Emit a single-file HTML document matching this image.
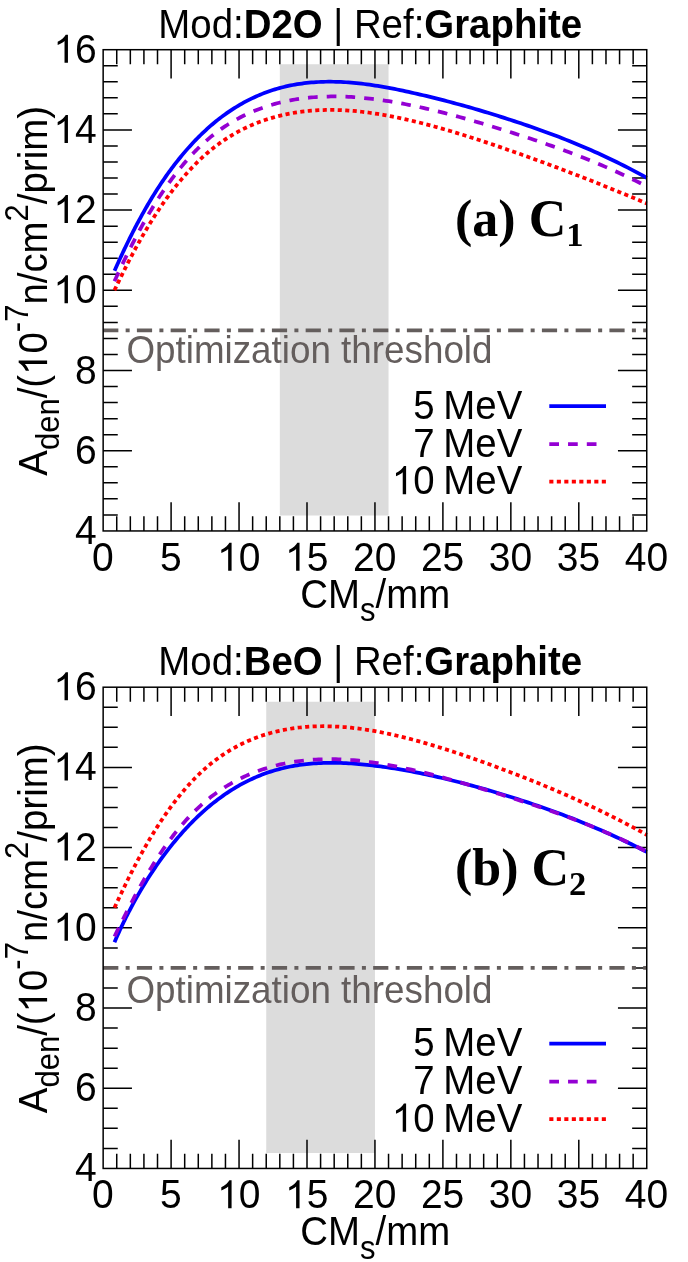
<!DOCTYPE html>
<html><head><meta charset="utf-8"><title>chart</title>
<style>
html,body{margin:0;padding:0;background:#fff;}
svg{display:block;will-change:transform;}
text{font-family:"Liberation Sans",sans-serif;font-size:40.6px;fill:#000;}
tspan.one{fill:none;}
text.lab{font-family:"Liberation Serif",serif;font-weight:bold;font-size:52px;}
</style></head><body>
<svg width="688" height="1262" viewBox="0 0 688 1262">
<rect width="688" height="1262" fill="#fff"/>
<g id="panel1">
<rect x="279.82" y="64.24" width="108.72" height="451.27" fill="#dcdcdc"/>
<path d="M116.74,530.95v-14.6M116.74,49.70v14.6M130.33,530.95v-14.6M130.33,49.70v14.6M143.92,530.95v-14.6M143.92,49.70v14.6M157.51,530.95v-14.6M157.51,49.70v14.6M171.10,530.95v-28.8M171.10,49.70v28.8M184.69,530.95v-14.6M184.69,49.70v14.6M198.28,530.95v-14.6M198.28,49.70v14.6M211.87,530.95v-14.6M211.87,49.70v14.6M225.46,530.95v-14.6M225.46,49.70v14.6M239.05,530.95v-28.8M239.05,49.70v28.8M252.64,530.95v-14.6M252.64,49.70v14.6M266.23,530.95v-14.6M266.23,49.70v14.6M279.82,530.95v-14.6M279.82,49.70v14.6M293.41,530.95v-14.6M293.41,49.70v14.6M307.00,530.95v-28.8M307.00,49.70v28.8M320.59,530.95v-14.6M320.59,49.70v14.6M334.18,530.95v-14.6M334.18,49.70v14.6M347.77,530.95v-14.6M347.77,49.70v14.6M361.36,530.95v-14.6M361.36,49.70v14.6M374.95,530.95v-28.8M374.95,49.70v28.8M388.54,530.95v-14.6M388.54,49.70v14.6M402.13,530.95v-14.6M402.13,49.70v14.6M415.72,530.95v-14.6M415.72,49.70v14.6M429.31,530.95v-14.6M429.31,49.70v14.6M442.90,530.95v-28.8M442.90,49.70v28.8M456.49,530.95v-14.6M456.49,49.70v14.6M470.08,530.95v-14.6M470.08,49.70v14.6M483.67,530.95v-14.6M483.67,49.70v14.6M497.26,530.95v-14.6M497.26,49.70v14.6M510.85,530.95v-28.8M510.85,49.70v28.8M524.44,530.95v-14.6M524.44,49.70v14.6M538.03,530.95v-14.6M538.03,49.70v14.6M551.62,530.95v-14.6M551.62,49.70v14.6M565.21,530.95v-14.6M565.21,49.70v14.6M578.80,530.95v-28.8M578.80,49.70v28.8M592.39,530.95v-14.6M592.39,49.70v14.6M605.98,530.95v-14.6M605.98,49.70v14.6M619.57,530.95v-14.6M619.57,49.70v14.6M633.16,530.95v-14.6M633.16,49.70v14.6M103.15,514.91h14.6M646.75,514.91h-14.6M103.15,498.87h14.6M646.75,498.87h-14.6M103.15,482.83h14.6M646.75,482.83h-14.6M103.15,466.78h14.6M646.75,466.78h-14.6M103.15,450.74h28.8M646.75,450.74h-28.8M103.15,434.70h14.6M646.75,434.70h-14.6M103.15,418.66h14.6M646.75,418.66h-14.6M103.15,402.62h14.6M646.75,402.62h-14.6M103.15,386.58h14.6M646.75,386.58h-14.6M103.15,370.53h28.8M646.75,370.53h-28.8M103.15,354.49h14.6M646.75,354.49h-14.6M103.15,338.45h14.6M646.75,338.45h-14.6M103.15,322.41h14.6M646.75,322.41h-14.6M103.15,306.37h14.6M646.75,306.37h-14.6M103.15,290.33h28.8M646.75,290.33h-28.8M103.15,274.28h14.6M646.75,274.28h-14.6M103.15,258.24h14.6M646.75,258.24h-14.6M103.15,242.20h14.6M646.75,242.20h-14.6M103.15,226.16h14.6M646.75,226.16h-14.6M103.15,210.12h28.8M646.75,210.12h-28.8M103.15,194.07h14.6M646.75,194.07h-14.6M103.15,178.03h14.6M646.75,178.03h-14.6M103.15,161.99h14.6M646.75,161.99h-14.6M103.15,145.95h14.6M646.75,145.95h-14.6M103.15,129.91h28.8M646.75,129.91h-28.8M103.15,113.87h14.6M646.75,113.87h-14.6M103.15,97.82h14.6M646.75,97.82h-14.6M103.15,81.78h14.6M646.75,81.78h-14.6M103.15,65.74h14.6M646.75,65.74h-14.6" stroke="#000" stroke-width="1.5" fill="none"/>
<path d="M103.15,330.33 H646.75" stroke="#645e5d" stroke-width="3.75" stroke-dasharray="15.2 7.3 4 7.25" fill="none"/>
<path d="M114.50,270.86 L115.13,269.43 L115.77,267.99 L116.43,266.51 L117.10,265.02 L117.79,263.50 L118.48,261.96 L119.19,260.40 L119.92,258.82 L120.66,257.22 L121.41,255.60 L122.17,253.96 L122.95,252.30 L123.74,250.62 L124.55,248.93 L125.37,247.22 L126.20,245.49 L127.04,243.75 L127.90,241.99 L128.77,240.22 L129.66,238.44 L130.56,236.64 L131.47,234.83 L132.39,233.00 L133.33,231.17 L134.29,229.32 L135.25,227.46 L136.23,225.60 L137.22,223.72 L138.23,221.83 L139.25,219.94 L140.28,218.04 L141.33,216.13 L142.39,214.21 L143.46,212.29 L144.55,210.37 L145.65,208.44 L146.76,206.50 L147.89,204.57 L149.03,202.63 L150.18,200.69 L151.35,198.75 L152.53,196.81 L153.72,194.87 L154.93,192.94 L156.15,191.00 L157.39,189.07 L158.63,187.14 L159.90,185.22 L161.17,183.30 L162.46,181.38 L163.76,179.48 L165.07,177.57 L166.40,175.68 L167.74,173.79 L169.10,171.91 L170.47,170.04 L171.85,168.17 L173.24,166.32 L174.65,164.47 L176.07,162.64 L177.51,160.81 L178.96,159.00 L180.42,157.20 L181.90,155.41 L183.39,153.63 L184.89,151.86 L186.40,150.11 L187.93,148.37 L189.48,146.64 L191.03,144.93 L192.60,143.24 L194.19,141.55 L195.78,139.89 L197.39,138.24 L199.01,136.61 L200.65,135.00 L202.30,133.40 L203.96,131.82 L205.64,130.26 L207.33,128.72 L209.04,127.20 L210.75,125.70 L212.48,124.22 L214.23,122.76 L215.99,121.32 L217.76,119.90 L219.54,118.50 L221.34,117.13 L223.15,115.78 L224.97,114.45 L226.81,113.15 L228.66,111.87 L230.53,110.61 L232.41,109.38 L234.30,108.17 L236.20,106.98 L238.12,105.82 L240.05,104.68 L242.00,103.57 L243.96,102.48 L245.93,101.42 L247.91,100.39 L249.91,99.38 L251.93,98.39 L253.95,97.44 L255.99,96.51 L258.04,95.60 L260.11,94.73 L262.19,93.88 L264.28,93.06 L266.39,92.27 L268.51,91.50 L270.64,90.77 L272.79,90.06 L274.95,89.38 L277.12,88.73 L279.31,88.11 L281.51,87.52 L283.72,86.96 L285.95,86.43 L288.19,85.93 L290.44,85.46 L292.71,85.01 L294.99,84.60 L297.28,84.21 L299.59,83.85 L301.91,83.52 L304.25,83.22 L306.59,82.95 L308.95,82.71 L311.33,82.49 L313.72,82.30 L316.12,82.14 L318.53,82.00 L320.96,81.89 L323.40,81.81 L325.86,81.75 L328.33,81.73 L330.81,81.72 L333.30,81.75 L335.81,81.80 L338.33,81.87 L340.87,81.98 L343.42,82.10 L345.98,82.25 L348.56,82.43 L351.15,82.63 L353.75,82.86 L356.37,83.11 L359.00,83.39 L361.64,83.69 L364.29,84.01 L366.96,84.36 L369.65,84.73 L372.34,85.12 L375.05,85.53 L377.78,85.96 L380.51,86.42 L383.26,86.89 L386.03,87.38 L388.80,87.89 L391.60,88.42 L394.40,88.96 L397.22,89.52 L400.05,90.10 L402.89,90.69 L405.75,91.30 L408.62,91.92 L411.50,92.56 L414.40,93.21 L417.31,93.87 L420.24,94.55 L423.18,95.24 L426.13,95.94 L429.09,96.66 L432.07,97.39 L435.06,98.13 L438.07,98.88 L441.09,99.65 L444.12,100.43 L447.16,101.23 L450.22,102.04 L453.29,102.86 L456.38,103.69 L459.48,104.54 L462.59,105.40 L465.72,106.28 L468.86,107.17 L472.01,108.07 L475.18,108.99 L478.35,109.92 L481.55,110.87 L484.75,111.83 L487.97,112.80 L491.21,113.79 L494.45,114.79 L497.71,115.81 L500.99,116.84 L504.27,117.88 L507.57,118.94 L510.89,120.01 L514.22,121.10 L517.56,122.20 L520.91,123.32 L524.28,124.46 L527.66,125.61 L531.05,126.78 L534.46,127.97 L537.88,129.18 L541.32,130.41 L544.76,131.66 L548.22,132.93 L551.70,134.22 L555.19,135.53 L558.69,136.87 L562.20,138.23 L565.73,139.62 L569.27,141.04 L572.83,142.47 L576.40,143.94 L579.98,145.43 L583.57,146.95 L587.18,148.50 L590.81,150.08 L594.44,151.69 L598.09,153.33 L601.75,155.01 L605.43,156.71 L609.12,158.45 L612.82,160.22 L616.54,162.02 L620.27,163.86 L624.01,165.74 L627.77,167.65 L631.54,169.60 L635.32,171.58 L639.12,173.61 L642.93,175.67 L646.75,177.78" stroke="#0000ff" stroke-width="3.75" fill="none" stroke-linejoin="round"/>
<path d="M114.50,281.17 L115.13,279.80 L115.77,278.41 L116.43,276.98 L117.10,275.53 L117.79,274.06 L118.48,272.56 L119.19,271.04 L119.92,269.49 L120.66,267.92 L121.41,266.33 L122.17,264.72 L122.95,263.09 L123.74,261.43 L124.55,259.76 L125.37,258.07 L126.20,256.36 L127.04,254.63 L127.90,252.89 L128.77,251.13 L129.66,249.35 L130.56,247.56 L131.47,245.76 L132.39,243.94 L133.33,242.11 L134.29,240.27 L135.25,238.41 L136.23,236.55 L137.22,234.67 L138.23,232.79 L139.25,230.90 L140.28,228.99 L141.33,227.09 L142.39,225.17 L143.46,223.25 L144.55,221.32 L145.65,219.39 L146.76,217.45 L147.89,215.51 L149.03,213.57 L150.18,211.63 L151.35,209.68 L152.53,207.74 L153.72,205.79 L154.93,203.84 L156.15,201.90 L157.39,199.96 L158.63,198.02 L159.90,196.08 L161.17,194.15 L162.46,192.22 L163.76,190.29 L165.07,188.38 L166.40,186.47 L167.74,184.56 L169.10,182.67 L170.47,180.78 L171.85,178.90 L173.24,177.04 L174.65,175.18 L176.07,173.33 L177.51,171.50 L178.96,169.68 L180.42,167.87 L181.90,166.07 L183.39,164.29 L184.89,162.53 L186.40,160.78 L187.93,159.05 L189.48,157.33 L191.03,155.64 L192.60,153.96 L194.19,152.30 L195.78,150.66 L197.39,149.04 L199.01,147.44 L200.65,145.87 L202.30,144.32 L203.96,142.79 L205.64,141.28 L207.33,139.80 L209.04,138.34 L210.75,136.91 L212.48,135.51 L214.23,134.13 L215.99,132.78 L217.76,131.45 L219.54,130.15 L221.34,128.87 L223.15,127.62 L224.97,126.40 L226.81,125.20 L228.66,124.02 L230.53,122.87 L232.41,121.75 L234.30,120.65 L236.20,119.58 L238.12,118.53 L240.05,117.51 L242.00,116.51 L243.96,115.53 L245.93,114.59 L247.91,113.66 L249.91,112.76 L251.93,111.89 L253.95,111.04 L255.99,110.22 L258.04,109.42 L260.11,108.64 L262.19,107.89 L264.28,107.16 L266.39,106.46 L268.51,105.78 L270.64,105.13 L272.79,104.50 L274.95,103.89 L277.12,103.31 L279.31,102.75 L281.51,102.22 L283.72,101.71 L285.95,101.23 L288.19,100.77 L290.44,100.33 L292.71,99.91 L294.99,99.52 L297.28,99.16 L299.59,98.82 L301.91,98.50 L304.25,98.20 L306.59,97.93 L308.95,97.68 L311.33,97.45 L313.72,97.25 L316.12,97.07 L318.53,96.92 L320.96,96.78 L323.40,96.68 L325.86,96.59 L328.33,96.53 L330.81,96.49 L333.30,96.47 L335.81,96.47 L338.33,96.50 L340.87,96.55 L343.42,96.63 L345.98,96.72 L348.56,96.84 L351.15,96.98 L353.75,97.15 L356.37,97.33 L359.00,97.54 L361.64,97.77 L364.29,98.02 L366.96,98.29 L369.65,98.59 L372.34,98.90 L375.05,99.24 L377.78,99.59 L380.51,99.97 L383.26,100.36 L386.03,100.78 L388.80,101.21 L391.60,101.67 L394.40,102.14 L397.22,102.64 L400.05,103.15 L402.89,103.68 L405.75,104.23 L408.62,104.79 L411.50,105.38 L414.40,105.98 L417.31,106.60 L420.24,107.24 L423.18,107.89 L426.13,108.56 L429.09,109.25 L432.07,109.96 L435.06,110.68 L438.07,111.41 L441.09,112.16 L444.12,112.93 L447.16,113.72 L450.22,114.52 L453.29,115.33 L456.38,116.16 L459.48,117.00 L462.59,117.86 L465.72,118.73 L468.86,119.61 L472.01,120.51 L475.18,121.43 L478.35,122.35 L481.55,123.29 L484.75,124.24 L487.97,125.21 L491.21,126.18 L494.45,127.17 L497.71,128.17 L500.99,129.19 L504.27,130.21 L507.57,131.25 L510.89,132.30 L514.22,133.35 L517.56,134.42 L520.91,135.50 L524.28,136.60 L527.66,137.70 L531.05,138.82 L534.46,139.96 L537.88,141.11 L541.32,142.27 L544.76,143.46 L548.22,144.66 L551.70,145.88 L555.19,147.11 L558.69,148.37 L562.20,149.65 L565.73,150.95 L569.27,152.27 L572.83,153.62 L576.40,154.98 L579.98,156.38 L583.57,157.79 L587.18,159.24 L590.81,160.71 L594.44,162.20 L598.09,163.73 L601.75,165.28 L605.43,166.86 L609.12,168.47 L612.82,170.12 L616.54,171.79 L620.27,173.50 L624.01,175.24 L627.77,177.02 L631.54,178.83 L635.32,180.67 L639.12,182.55 L642.93,184.47 L646.75,186.43" stroke="#9400d3" stroke-width="3.75" fill="none" stroke-linejoin="round" stroke-dasharray="9.7 9.05"/>
<path d="M114.50,290.22 L115.13,288.90 L115.77,287.55 L116.43,286.18 L117.10,284.78 L117.79,283.35 L118.48,281.91 L119.19,280.44 L119.92,278.95 L120.66,277.43 L121.41,275.90 L122.17,274.34 L122.95,272.77 L123.74,271.17 L124.55,269.56 L125.37,267.93 L126.20,266.28 L127.04,264.61 L127.90,262.93 L128.77,261.23 L129.66,259.52 L130.56,257.79 L131.47,256.05 L132.39,254.30 L133.33,252.54 L134.29,250.76 L135.25,248.97 L136.23,247.17 L137.22,245.36 L138.23,243.54 L139.25,241.72 L140.28,239.88 L141.33,238.04 L142.39,236.19 L143.46,234.33 L144.55,232.47 L145.65,230.60 L146.76,228.73 L147.89,226.86 L149.03,224.98 L150.18,223.10 L151.35,221.22 L152.53,219.34 L153.72,217.45 L154.93,215.57 L156.15,213.69 L157.39,211.80 L158.63,209.92 L159.90,208.04 L161.17,206.17 L162.46,204.30 L163.76,202.43 L165.07,200.57 L166.40,198.71 L167.74,196.86 L169.10,195.02 L170.47,193.19 L171.85,191.36 L173.24,189.54 L174.65,187.73 L176.07,185.93 L177.51,184.14 L178.96,182.36 L180.42,180.60 L181.90,178.84 L183.39,177.10 L184.89,175.37 L186.40,173.66 L187.93,171.96 L189.48,170.28 L191.03,168.61 L192.60,166.96 L194.19,165.33 L195.78,163.72 L197.39,162.12 L199.01,160.54 L200.65,158.99 L202.30,157.45 L203.96,155.93 L205.64,154.44 L207.33,152.97 L209.04,151.52 L210.75,150.10 L212.48,148.69 L214.23,147.32 L215.99,145.97 L217.76,144.64 L219.54,143.34 L221.34,142.06 L223.15,140.81 L224.97,139.58 L226.81,138.38 L228.66,137.20 L230.53,136.05 L232.41,134.92 L234.30,133.82 L236.20,132.74 L238.12,131.69 L240.05,130.66 L242.00,129.66 L243.96,128.68 L245.93,127.73 L247.91,126.80 L249.91,125.89 L251.93,125.01 L253.95,124.16 L255.99,123.33 L258.04,122.52 L260.11,121.74 L262.19,120.99 L264.28,120.26 L266.39,119.55 L268.51,118.87 L270.64,118.22 L272.79,117.59 L274.95,116.98 L277.12,116.40 L279.31,115.84 L281.51,115.31 L283.72,114.81 L285.95,114.33 L288.19,113.87 L290.44,113.44 L292.71,113.03 L294.99,112.65 L297.28,112.29 L299.59,111.96 L301.91,111.65 L304.25,111.37 L306.59,111.11 L308.95,110.88 L311.33,110.67 L313.72,110.49 L316.12,110.33 L318.53,110.20 L320.96,110.09 L323.40,110.01 L325.86,109.95 L328.33,109.92 L330.81,109.91 L333.30,109.93 L335.81,109.97 L338.33,110.03 L340.87,110.12 L343.42,110.24 L345.98,110.38 L348.56,110.55 L351.15,110.74 L353.75,110.95 L356.37,111.19 L359.00,111.46 L361.64,111.74 L364.29,112.05 L366.96,112.39 L369.65,112.75 L372.34,113.12 L375.05,113.53 L377.78,113.95 L380.51,114.40 L383.26,114.86 L386.03,115.35 L388.80,115.86 L391.60,116.39 L394.40,116.94 L397.22,117.52 L400.05,118.11 L402.89,118.72 L405.75,119.35 L408.62,120.01 L411.50,120.68 L414.40,121.37 L417.31,122.07 L420.24,122.80 L423.18,123.55 L426.13,124.31 L429.09,125.09 L432.07,125.89 L435.06,126.70 L438.07,127.54 L441.09,128.39 L444.12,129.25 L447.16,130.13 L450.22,131.03 L453.29,131.95 L456.38,132.88 L459.48,133.82 L462.59,134.78 L465.72,135.75 L468.86,136.74 L472.01,137.75 L475.18,138.76 L478.35,139.79 L481.55,140.84 L484.75,141.90 L487.97,142.97 L491.21,144.05 L494.45,145.15 L497.71,146.25 L500.99,147.38 L504.27,148.51 L507.57,149.65 L510.89,150.81 L514.22,151.97 L517.56,153.15 L520.91,154.34 L524.28,155.54 L527.66,156.75 L531.05,157.98 L534.46,159.22 L537.88,160.46 L541.32,161.72 L544.76,162.99 L548.22,164.28 L551.70,165.57 L555.19,166.88 L558.69,168.19 L562.20,169.52 L565.73,170.87 L569.27,172.22 L572.83,173.59 L576.40,174.96 L579.98,176.35 L583.57,177.75 L587.18,179.17 L590.81,180.59 L594.44,182.03 L598.09,183.48 L601.75,184.94 L605.43,186.42 L609.12,187.90 L612.82,189.40 L616.54,190.91 L620.27,192.43 L624.01,193.97 L627.77,195.51 L631.54,197.07 L635.32,198.65 L639.12,200.23 L642.93,201.83 L646.75,203.44" stroke="#ff0000" stroke-width="3.75" fill="none" stroke-linejoin="round" stroke-dasharray="4.1 3.4"/>
<rect x="103.15" y="49.70" width="543.60" height="481.25" fill="none" stroke="#000" stroke-width="1.5"/>
<text transform="translate(96.80,543.95) scale(0.975,1)" text-anchor="end" style="font-size:40.0px;">4</text>
<text transform="translate(96.80,463.74) scale(0.975,1)" text-anchor="end" style="font-size:40.0px;">6</text>
<text transform="translate(96.80,383.53) scale(0.975,1)" text-anchor="end" style="font-size:40.0px;">8</text>
<text transform="translate(96.80,303.33) scale(0.975,1)" text-anchor="end" style="font-size:40.0px;"><tspan class="one">1</tspan>0</text>
<text transform="translate(96.80,223.12) scale(0.975,1)" text-anchor="end" style="font-size:40.0px;"><tspan class="one">1</tspan>2</text>
<text transform="translate(96.80,142.91) scale(0.975,1)" text-anchor="end" style="font-size:40.0px;"><tspan class="one">1</tspan>4</text>
<text transform="translate(96.80,62.70) scale(0.975,1)" text-anchor="end" style="font-size:40.0px;"><tspan class="one">1</tspan>6</text>
<text transform="translate(102.85,570.75) scale(0.975,1)" text-anchor="middle" style="font-size:40.0px;">0</text>
<text transform="translate(170.80,570.75) scale(0.975,1)" text-anchor="middle" style="font-size:40.0px;">5</text>
<text transform="translate(238.75,570.75) scale(0.975,1)" text-anchor="middle" style="font-size:40.0px;"><tspan class="one">1</tspan>0</text>
<text transform="translate(306.70,570.75) scale(0.975,1)" text-anchor="middle" style="font-size:40.0px;"><tspan class="one">1</tspan>5</text>
<text transform="translate(374.65,570.75) scale(0.975,1)" text-anchor="middle" style="font-size:40.0px;">20</text>
<text transform="translate(442.60,570.75) scale(0.975,1)" text-anchor="middle" style="font-size:40.0px;">25</text>
<text transform="translate(510.55,570.75) scale(0.975,1)" text-anchor="middle" style="font-size:40.0px;">30</text>
<text transform="translate(578.50,570.75) scale(0.975,1)" text-anchor="middle" style="font-size:40.0px;">35</text>
<text transform="translate(646.45,570.75) scale(0.975,1)" text-anchor="middle" style="font-size:40.0px;">40</text>
<text transform="translate(375.30,607.75) scale(0.946,1)" text-anchor="middle">CM<tspan style="font-size:32.8px" dy="13.6">s</tspan><tspan dy="-13.6">/mm</tspan></text>
<text transform="translate(47.10,290.88) rotate(-90) scale(0.946,1)" text-anchor="middle">A<tspan style="font-size:32.8px" dy="12.2">den</tspan><tspan dy="-12.2">/(<tspan class="one">1</tspan>0</tspan><tspan style="font-size:32.8px" dy="-19">-7</tspan><tspan dy="19">n/cm</tspan><tspan style="font-size:32.8px" dy="-19">2</tspan><tspan dy="19">/prim)</tspan></text>
<text transform="translate(158.30,37.90) scale(0.946,1)">Mod:<tspan style="font-weight:bold">D2O</tspan> | Ref:<tspan style="font-weight:bold">Graphite</tspan></text>
<text transform="translate(126.40,362.83) scale(0.946,1)" style="font-size:38.9px;fill:#645e5d">Optimization threshold</text>
<text transform="translate(522.30,418.73) scale(0.946,1)" text-anchor="end" style="word-spacing:-1.9px">5 MeV</text>
<text transform="translate(522.30,456.63) scale(0.946,1)" text-anchor="end" style="word-spacing:-1.9px">7 MeV</text>
<text transform="translate(522.30,494.33) scale(0.946,1)" text-anchor="end" style="word-spacing:-1.9px"><tspan class="one">1</tspan>0 MeV</text>
<path d="M549.3,406.03H606" stroke="#0000ff" stroke-width="3.75"/>
<path d="M549.3,444.03H605.4" stroke="#9400d3" stroke-width="3.75" stroke-dasharray="9.7 9.05"/>
<path d="M549.3,481.73H606" stroke="#ff0000" stroke-width="3.75" stroke-dasharray="4.1 3.4"/>
<text x="455" y="235.80" class="lab">(a) C<tspan style="font-size:34.5px" dy="10.3">1</tspan></text>
</g>
<g id="panel2">
<rect x="266.23" y="701.74" width="108.72" height="451.27" fill="#dcdcdc"/>
<path d="M116.74,1168.45v-14.6M116.74,687.20v14.6M130.33,1168.45v-14.6M130.33,687.20v14.6M143.92,1168.45v-14.6M143.92,687.20v14.6M157.51,1168.45v-14.6M157.51,687.20v14.6M171.10,1168.45v-28.8M171.10,687.20v28.8M184.69,1168.45v-14.6M184.69,687.20v14.6M198.28,1168.45v-14.6M198.28,687.20v14.6M211.87,1168.45v-14.6M211.87,687.20v14.6M225.46,1168.45v-14.6M225.46,687.20v14.6M239.05,1168.45v-28.8M239.05,687.20v28.8M252.64,1168.45v-14.6M252.64,687.20v14.6M266.23,1168.45v-14.6M266.23,687.20v14.6M279.82,1168.45v-14.6M279.82,687.20v14.6M293.41,1168.45v-14.6M293.41,687.20v14.6M307.00,1168.45v-28.8M307.00,687.20v28.8M320.59,1168.45v-14.6M320.59,687.20v14.6M334.18,1168.45v-14.6M334.18,687.20v14.6M347.77,1168.45v-14.6M347.77,687.20v14.6M361.36,1168.45v-14.6M361.36,687.20v14.6M374.95,1168.45v-28.8M374.95,687.20v28.8M388.54,1168.45v-14.6M388.54,687.20v14.6M402.13,1168.45v-14.6M402.13,687.20v14.6M415.72,1168.45v-14.6M415.72,687.20v14.6M429.31,1168.45v-14.6M429.31,687.20v14.6M442.90,1168.45v-28.8M442.90,687.20v28.8M456.49,1168.45v-14.6M456.49,687.20v14.6M470.08,1168.45v-14.6M470.08,687.20v14.6M483.67,1168.45v-14.6M483.67,687.20v14.6M497.26,1168.45v-14.6M497.26,687.20v14.6M510.85,1168.45v-28.8M510.85,687.20v28.8M524.44,1168.45v-14.6M524.44,687.20v14.6M538.03,1168.45v-14.6M538.03,687.20v14.6M551.62,1168.45v-14.6M551.62,687.20v14.6M565.21,1168.45v-14.6M565.21,687.20v14.6M578.80,1168.45v-28.8M578.80,687.20v28.8M592.39,1168.45v-14.6M592.39,687.20v14.6M605.98,1168.45v-14.6M605.98,687.20v14.6M619.57,1168.45v-14.6M619.57,687.20v14.6M633.16,1168.45v-14.6M633.16,687.20v14.6M103.15,1148.40h14.6M646.75,1148.40h-14.6M103.15,1128.35h14.6M646.75,1128.35h-14.6M103.15,1108.29h14.6M646.75,1108.29h-14.6M103.15,1088.24h28.8M646.75,1088.24h-28.8M103.15,1068.19h14.6M646.75,1068.19h-14.6M103.15,1048.14h14.6M646.75,1048.14h-14.6M103.15,1028.09h14.6M646.75,1028.09h-14.6M103.15,1008.03h28.8M646.75,1008.03h-28.8M103.15,987.98h14.6M646.75,987.98h-14.6M103.15,967.93h14.6M646.75,967.93h-14.6M103.15,947.88h14.6M646.75,947.88h-14.6M103.15,927.83h28.8M646.75,927.83h-28.8M103.15,907.77h14.6M646.75,907.77h-14.6M103.15,887.72h14.6M646.75,887.72h-14.6M103.15,867.67h14.6M646.75,867.67h-14.6M103.15,847.62h28.8M646.75,847.62h-28.8M103.15,827.56h14.6M646.75,827.56h-14.6M103.15,807.51h14.6M646.75,807.51h-14.6M103.15,787.46h14.6M646.75,787.46h-14.6M103.15,767.41h28.8M646.75,767.41h-28.8M103.15,747.36h14.6M646.75,747.36h-14.6M103.15,727.30h14.6M646.75,727.30h-14.6M103.15,707.25h14.6M646.75,707.25h-14.6" stroke="#000" stroke-width="1.5" fill="none"/>
<path d="M103.15,967.83 H646.75" stroke="#645e5d" stroke-width="3.75" stroke-dasharray="15.2 7.3 4 7.25" fill="none"/>
<path d="M114.50,942.25 L115.13,940.78 L115.77,939.30 L116.43,937.80 L117.10,936.28 L117.79,934.75 L118.48,933.20 L119.19,931.64 L119.92,930.07 L120.66,928.48 L121.41,926.88 L122.17,925.27 L122.95,923.65 L123.74,922.01 L124.55,920.37 L125.37,918.71 L126.20,917.04 L127.04,915.36 L127.90,913.68 L128.77,911.98 L129.66,910.27 L130.56,908.56 L131.47,906.84 L132.39,905.11 L133.33,903.38 L134.29,901.63 L135.25,899.89 L136.23,898.13 L137.22,896.37 L138.23,894.61 L139.25,892.84 L140.28,891.07 L141.33,889.29 L142.39,887.51 L143.46,885.73 L144.55,883.94 L145.65,882.16 L146.76,880.37 L147.89,878.58 L149.03,876.79 L150.18,875.00 L151.35,873.21 L152.53,871.42 L153.72,869.63 L154.93,867.84 L156.15,866.05 L157.39,864.27 L158.63,862.49 L159.90,860.71 L161.17,858.94 L162.46,857.17 L163.76,855.40 L165.07,853.64 L166.40,851.88 L167.74,850.13 L169.10,848.39 L170.47,846.65 L171.85,844.92 L173.24,843.19 L174.65,841.47 L176.07,839.77 L177.51,838.06 L178.96,836.37 L180.42,834.69 L181.90,833.02 L183.39,831.36 L184.89,829.71 L186.40,828.07 L187.93,826.44 L189.48,824.82 L191.03,823.21 L192.60,821.62 L194.19,820.04 L195.78,818.48 L197.39,816.93 L199.01,815.39 L200.65,813.87 L202.30,812.36 L203.96,810.87 L205.64,809.39 L207.33,807.93 L209.04,806.49 L210.75,805.06 L212.48,803.66 L214.23,802.27 L215.99,800.90 L217.76,799.54 L219.54,798.21 L221.34,796.90 L223.15,795.61 L224.97,794.33 L226.81,793.08 L228.66,791.86 L230.53,790.65 L232.41,789.46 L234.30,788.30 L236.20,787.16 L238.12,786.05 L240.05,784.95 L242.00,783.89 L243.96,782.84 L245.93,781.83 L247.91,780.84 L249.91,779.87 L251.93,778.93 L253.95,778.01 L255.99,777.12 L258.04,776.26 L260.11,775.42 L262.19,774.61 L264.28,773.83 L266.39,773.07 L268.51,772.34 L270.64,771.63 L272.79,770.96 L274.95,770.30 L277.12,769.68 L279.31,769.08 L281.51,768.51 L283.72,767.97 L285.95,767.45 L288.19,766.97 L290.44,766.51 L292.71,766.07 L294.99,765.67 L297.28,765.29 L299.59,764.95 L301.91,764.63 L304.25,764.33 L306.59,764.07 L308.95,763.83 L311.33,763.62 L313.72,763.43 L316.12,763.27 L318.53,763.13 L320.96,763.02 L323.40,762.94 L325.86,762.88 L328.33,762.84 L330.81,762.82 L333.30,762.83 L335.81,762.86 L338.33,762.92 L340.87,762.99 L343.42,763.09 L345.98,763.20 L348.56,763.34 L351.15,763.50 L353.75,763.68 L356.37,763.88 L359.00,764.09 L361.64,764.33 L364.29,764.58 L366.96,764.86 L369.65,765.15 L372.34,765.45 L375.05,765.78 L377.78,766.12 L380.51,766.48 L383.26,766.85 L386.03,767.24 L388.80,767.65 L391.60,768.07 L394.40,768.51 L397.22,768.97 L400.05,769.44 L402.89,769.93 L405.75,770.44 L408.62,770.96 L411.50,771.50 L414.40,772.05 L417.31,772.63 L420.24,773.21 L423.18,773.82 L426.13,774.43 L429.09,775.07 L432.07,775.72 L435.06,776.39 L438.07,777.07 L441.09,777.77 L444.12,778.48 L447.16,779.21 L450.22,779.95 L453.29,780.71 L456.38,781.49 L459.48,782.28 L462.59,783.09 L465.72,783.91 L468.86,784.75 L472.01,785.60 L475.18,786.47 L478.35,787.35 L481.55,788.25 L484.75,789.16 L487.97,790.09 L491.21,791.03 L494.45,791.99 L497.71,792.96 L500.99,793.95 L504.27,794.95 L507.57,795.97 L510.89,797.00 L514.22,798.05 L517.56,799.11 L520.91,800.19 L524.28,801.28 L527.66,802.39 L531.05,803.52 L534.46,804.67 L537.88,805.83 L541.32,807.02 L544.76,808.22 L548.22,809.45 L551.70,810.69 L555.19,811.96 L558.69,813.24 L562.20,814.55 L565.73,815.88 L569.27,817.24 L572.83,818.62 L576.40,820.02 L579.98,821.45 L583.57,822.90 L587.18,824.38 L590.81,825.88 L594.44,827.41 L598.09,828.97 L601.75,830.56 L605.43,832.17 L609.12,833.81 L612.82,835.49 L616.54,837.19 L620.27,838.92 L624.01,840.68 L627.77,842.48 L631.54,844.30 L635.32,846.16 L639.12,848.05 L642.93,849.98 L646.75,851.94" stroke="#0000ff" stroke-width="3.75" fill="none" stroke-linejoin="round"/>
<path d="M114.50,936.49 L115.13,935.21 L115.77,933.90 L116.43,932.56 L117.10,931.19 L117.79,929.79 L118.48,928.37 L119.19,926.93 L119.92,925.45 L120.66,923.96 L121.41,922.43 L122.17,920.89 L122.95,919.32 L123.74,917.73 L124.55,916.12 L125.37,914.49 L126.20,912.84 L127.04,911.17 L127.90,909.49 L128.77,907.78 L129.66,906.06 L130.56,904.32 L131.47,902.57 L132.39,900.81 L133.33,899.03 L134.29,897.23 L135.25,895.43 L136.23,893.61 L137.22,891.78 L138.23,889.94 L139.25,888.10 L140.28,886.24 L141.33,884.38 L142.39,882.50 L143.46,880.63 L144.55,878.74 L145.65,876.85 L146.76,874.96 L147.89,873.07 L149.03,871.17 L150.18,869.27 L151.35,867.36 L152.53,865.46 L153.72,863.56 L154.93,861.65 L156.15,859.75 L157.39,857.85 L158.63,855.96 L159.90,854.07 L161.17,852.18 L162.46,850.30 L163.76,848.42 L165.07,846.55 L166.40,844.69 L167.74,842.83 L169.10,840.99 L170.47,839.15 L171.85,837.33 L173.24,835.51 L174.65,833.71 L176.07,831.92 L177.51,830.14 L178.96,828.38 L180.42,826.63 L181.90,824.90 L183.39,823.18 L184.89,821.48 L186.40,819.79 L187.93,818.13 L189.48,816.48 L191.03,814.86 L192.60,813.25 L194.19,811.67 L195.78,810.10 L197.39,808.57 L199.01,807.05 L200.65,805.56 L202.30,804.09 L203.96,802.64 L205.64,801.22 L207.33,799.82 L209.04,798.44 L210.75,797.09 L212.48,795.77 L214.23,794.46 L215.99,793.18 L217.76,791.92 L219.54,790.69 L221.34,789.48 L223.15,788.29 L224.97,787.13 L226.81,785.99 L228.66,784.88 L230.53,783.79 L232.41,782.72 L234.30,781.67 L236.20,780.65 L238.12,779.66 L240.05,778.68 L242.00,777.73 L243.96,776.81 L245.93,775.91 L247.91,775.03 L249.91,774.17 L251.93,773.34 L253.95,772.53 L255.99,771.75 L258.04,770.99 L260.11,770.25 L262.19,769.54 L264.28,768.85 L266.39,768.18 L268.51,767.54 L270.64,766.92 L272.79,766.33 L274.95,765.76 L277.12,765.21 L279.31,764.69 L281.51,764.19 L283.72,763.71 L285.95,763.26 L288.19,762.83 L290.44,762.43 L292.71,762.05 L294.99,761.69 L297.28,761.35 L299.59,761.04 L301.91,760.76 L304.25,760.50 L306.59,760.26 L308.95,760.04 L311.33,759.85 L313.72,759.68 L316.12,759.54 L318.53,759.42 L320.96,759.32 L323.40,759.25 L325.86,759.20 L328.33,759.18 L330.81,759.18 L333.30,759.20 L335.81,759.24 L338.33,759.31 L340.87,759.41 L343.42,759.53 L345.98,759.67 L348.56,759.83 L351.15,760.02 L353.75,760.23 L356.37,760.47 L359.00,760.73 L361.64,761.01 L364.29,761.32 L366.96,761.65 L369.65,762.00 L372.34,762.37 L375.05,762.76 L377.78,763.18 L380.51,763.61 L383.26,764.07 L386.03,764.55 L388.80,765.04 L391.60,765.56 L394.40,766.10 L397.22,766.65 L400.05,767.22 L402.89,767.82 L405.75,768.43 L408.62,769.05 L411.50,769.70 L414.40,770.36 L417.31,771.04 L420.24,771.74 L423.18,772.45 L426.13,773.18 L429.09,773.92 L432.07,774.68 L435.06,775.45 L438.07,776.24 L441.09,777.04 L444.12,777.86 L447.16,778.69 L450.22,779.53 L453.29,780.39 L456.38,781.25 L459.48,782.14 L462.59,783.03 L465.72,783.93 L468.86,784.85 L472.01,785.78 L475.18,786.72 L478.35,787.66 L481.55,788.62 L484.75,789.59 L487.97,790.57 L491.21,791.56 L494.45,792.55 L497.71,793.56 L500.99,794.57 L504.27,795.59 L507.57,796.63 L510.89,797.67 L514.22,798.72 L517.56,799.78 L520.91,800.85 L524.28,801.94 L527.66,803.04 L531.05,804.16 L534.46,805.29 L537.88,806.43 L541.32,807.59 L544.76,808.77 L548.22,809.97 L551.70,811.19 L555.19,812.42 L558.69,813.67 L562.20,814.95 L565.73,816.25 L569.27,817.56 L572.83,818.91 L576.40,820.27 L579.98,821.66 L583.57,823.08 L587.18,824.52 L590.81,825.98 L594.44,827.48 L598.09,829.00 L601.75,830.55 L605.43,832.13 L609.12,833.74 L612.82,835.38 L616.54,837.06 L620.27,838.76 L624.01,840.50 L627.77,842.27 L631.54,844.08 L635.32,845.92 L639.12,847.80 L642.93,849.71 L646.75,851.66" stroke="#9400d3" stroke-width="3.75" fill="none" stroke-linejoin="round" stroke-dasharray="9.7 9.05"/>
<path d="M114.50,907.72 L115.13,906.36 L115.77,904.98 L116.43,903.56 L117.10,902.12 L117.79,900.65 L118.48,899.16 L119.19,897.64 L119.92,896.10 L120.66,894.54 L121.41,892.95 L122.17,891.34 L122.95,889.71 L123.74,888.06 L124.55,886.40 L125.37,884.71 L126.20,883.00 L127.04,881.28 L127.90,879.53 L128.77,877.78 L129.66,876.00 L130.56,874.22 L131.47,872.41 L132.39,870.60 L133.33,868.77 L134.29,866.93 L135.25,865.07 L136.23,863.21 L137.22,861.34 L138.23,859.45 L139.25,857.56 L140.28,855.66 L141.33,853.75 L142.39,851.84 L143.46,849.92 L144.55,847.99 L145.65,846.06 L146.76,844.12 L147.89,842.18 L149.03,840.24 L150.18,838.30 L151.35,836.35 L152.53,834.41 L153.72,832.46 L154.93,830.52 L156.15,828.57 L157.39,826.63 L158.63,824.69 L159.90,822.76 L161.17,820.83 L162.46,818.90 L163.76,816.98 L165.07,815.06 L166.40,813.15 L167.74,811.25 L169.10,809.36 L170.47,807.47 L171.85,805.60 L173.24,803.73 L174.65,801.88 L176.07,800.04 L177.51,798.21 L178.96,796.39 L180.42,794.59 L181.90,792.80 L183.39,791.02 L184.89,789.26 L186.40,787.52 L187.93,785.79 L189.48,784.09 L191.03,782.40 L192.60,780.73 L194.19,779.07 L195.78,777.44 L197.39,775.83 L199.01,774.24 L200.65,772.68 L202.30,771.14 L203.96,769.62 L205.64,768.12 L207.33,766.65 L209.04,765.21 L210.75,763.79 L212.48,762.40 L214.23,761.03 L215.99,759.70 L217.76,758.39 L219.54,757.10 L221.34,755.85 L223.15,754.61 L224.97,753.41 L226.81,752.23 L228.66,751.08 L230.53,749.96 L232.41,748.86 L234.30,747.79 L236.20,746.74 L238.12,745.72 L240.05,744.73 L242.00,743.76 L243.96,742.82 L245.93,741.91 L247.91,741.02 L249.91,740.16 L251.93,739.33 L253.95,738.52 L255.99,737.74 L258.04,736.98 L260.11,736.25 L262.19,735.54 L264.28,734.86 L266.39,734.21 L268.51,733.58 L270.64,732.98 L272.79,732.41 L274.95,731.86 L277.12,731.34 L279.31,730.84 L281.51,730.37 L283.72,729.92 L285.95,729.50 L288.19,729.10 L290.44,728.73 L292.71,728.39 L294.99,728.07 L297.28,727.78 L299.59,727.51 L301.91,727.27 L304.25,727.05 L306.59,726.86 L308.95,726.70 L311.33,726.56 L313.72,726.44 L316.12,726.35 L318.53,726.29 L320.96,726.25 L323.40,726.23 L325.86,726.24 L328.33,726.28 L330.81,726.34 L333.30,726.43 L335.81,726.54 L338.33,726.67 L340.87,726.84 L343.42,727.02 L345.98,727.23 L348.56,727.47 L351.15,727.73 L353.75,728.02 L356.37,728.33 L359.00,728.66 L361.64,729.02 L364.29,729.40 L366.96,729.81 L369.65,730.24 L372.34,730.69 L375.05,731.16 L377.78,731.66 L380.51,732.18 L383.26,732.72 L386.03,733.29 L388.80,733.87 L391.60,734.48 L394.40,735.11 L397.22,735.76 L400.05,736.43 L402.89,737.12 L405.75,737.83 L408.62,738.56 L411.50,739.31 L414.40,740.09 L417.31,740.88 L420.24,741.68 L423.18,742.51 L426.13,743.36 L429.09,744.22 L432.07,745.11 L435.06,746.01 L438.07,746.93 L441.09,747.87 L444.12,748.82 L447.16,749.79 L450.22,750.78 L453.29,751.78 L456.38,752.80 L459.48,753.84 L462.59,754.89 L465.72,755.96 L468.86,757.04 L472.01,758.14 L475.18,759.25 L478.35,760.38 L481.55,761.52 L484.75,762.68 L487.97,763.85 L491.21,765.04 L494.45,766.23 L497.71,767.44 L500.99,768.67 L504.27,769.90 L507.57,771.15 L510.89,772.42 L514.22,773.69 L517.56,774.99 L520.91,776.29 L524.28,777.61 L527.66,778.95 L531.05,780.30 L534.46,781.67 L537.88,783.06 L541.32,784.46 L544.76,785.89 L548.22,787.33 L551.70,788.78 L555.19,790.26 L558.69,791.76 L562.20,793.28 L565.73,794.82 L569.27,796.38 L572.83,797.96 L576.40,799.57 L579.98,801.19 L583.57,802.84 L587.18,804.51 L590.81,806.21 L594.44,807.93 L598.09,809.68 L601.75,811.45 L605.43,813.25 L609.12,815.07 L612.82,816.92 L616.54,818.79 L620.27,820.70 L624.01,822.63 L627.77,824.59 L631.54,826.58 L635.32,828.60 L639.12,830.65 L642.93,832.73 L646.75,834.83" stroke="#ff0000" stroke-width="3.75" fill="none" stroke-linejoin="round" stroke-dasharray="4.1 3.4"/>
<rect x="103.15" y="687.20" width="543.60" height="481.25" fill="none" stroke="#000" stroke-width="1.5"/>
<text transform="translate(96.80,1181.45) scale(0.975,1)" text-anchor="end" style="font-size:40.0px;">4</text>
<text transform="translate(96.80,1101.24) scale(0.975,1)" text-anchor="end" style="font-size:40.0px;">6</text>
<text transform="translate(96.80,1021.03) scale(0.975,1)" text-anchor="end" style="font-size:40.0px;">8</text>
<text transform="translate(96.80,940.83) scale(0.975,1)" text-anchor="end" style="font-size:40.0px;"><tspan class="one">1</tspan>0</text>
<text transform="translate(96.80,860.62) scale(0.975,1)" text-anchor="end" style="font-size:40.0px;"><tspan class="one">1</tspan>2</text>
<text transform="translate(96.80,780.41) scale(0.975,1)" text-anchor="end" style="font-size:40.0px;"><tspan class="one">1</tspan>4</text>
<text transform="translate(96.80,700.20) scale(0.975,1)" text-anchor="end" style="font-size:40.0px;"><tspan class="one">1</tspan>6</text>
<text transform="translate(102.85,1208.25) scale(0.975,1)" text-anchor="middle" style="font-size:40.0px;">0</text>
<text transform="translate(170.80,1208.25) scale(0.975,1)" text-anchor="middle" style="font-size:40.0px;">5</text>
<text transform="translate(238.75,1208.25) scale(0.975,1)" text-anchor="middle" style="font-size:40.0px;"><tspan class="one">1</tspan>0</text>
<text transform="translate(306.70,1208.25) scale(0.975,1)" text-anchor="middle" style="font-size:40.0px;"><tspan class="one">1</tspan>5</text>
<text transform="translate(374.65,1208.25) scale(0.975,1)" text-anchor="middle" style="font-size:40.0px;">20</text>
<text transform="translate(442.60,1208.25) scale(0.975,1)" text-anchor="middle" style="font-size:40.0px;">25</text>
<text transform="translate(510.55,1208.25) scale(0.975,1)" text-anchor="middle" style="font-size:40.0px;">30</text>
<text transform="translate(578.50,1208.25) scale(0.975,1)" text-anchor="middle" style="font-size:40.0px;">35</text>
<text transform="translate(646.45,1208.25) scale(0.975,1)" text-anchor="middle" style="font-size:40.0px;">40</text>
<text transform="translate(375.30,1245.25) scale(0.946,1)" text-anchor="middle">CM<tspan style="font-size:32.8px" dy="13.6">s</tspan><tspan dy="-13.6">/mm</tspan></text>
<text transform="translate(47.10,928.38) rotate(-90) scale(0.946,1)" text-anchor="middle">A<tspan style="font-size:32.8px" dy="12.2">den</tspan><tspan dy="-12.2">/(<tspan class="one">1</tspan>0</tspan><tspan style="font-size:32.8px" dy="-19">-7</tspan><tspan dy="19">n/cm</tspan><tspan style="font-size:32.8px" dy="-19">2</tspan><tspan dy="19">/prim)</tspan></text>
<text transform="translate(158.30,675.40) scale(0.946,1)">Mod:<tspan style="font-weight:bold">BeO</tspan> | Ref:<tspan style="font-weight:bold">Graphite</tspan></text>
<text transform="translate(126.40,1002.93) scale(0.946,1)" style="font-size:38.9px;fill:#645e5d">Optimization threshold</text>
<text transform="translate(522.30,1056.23) scale(0.946,1)" text-anchor="end" style="word-spacing:-1.9px">5 MeV</text>
<text transform="translate(522.30,1094.13) scale(0.946,1)" text-anchor="end" style="word-spacing:-1.9px">7 MeV</text>
<text transform="translate(522.30,1131.83) scale(0.946,1)" text-anchor="end" style="word-spacing:-1.9px"><tspan class="one">1</tspan>0 MeV</text>
<path d="M549.3,1043.53H606" stroke="#0000ff" stroke-width="3.75"/>
<path d="M549.3,1081.53H605.4" stroke="#9400d3" stroke-width="3.75" stroke-dasharray="9.7 9.05"/>
<path d="M549.3,1119.23H606" stroke="#ff0000" stroke-width="3.75" stroke-dasharray="4.1 3.4"/>
<text x="455" y="884.65" class="lab">(b) C<tspan style="font-size:34.5px" dy="10.3">2</tspan></text>
</g>
<g id="ones" fill="#000">
<path transform="translate(96.80,303.33) scale(0.975,1) translate(-44.49,0.00) scale(0.01953,-0.01902)" d="M763 0H583V1147Q518 1085 412.5 1023T223 930V1104Q374 1175 487 1276T647 1472H763Z"/>
<path transform="translate(96.80,223.12) scale(0.975,1) translate(-44.49,0.00) scale(0.01953,-0.01902)" d="M763 0H583V1147Q518 1085 412.5 1023T223 930V1104Q374 1175 487 1276T647 1472H763Z"/>
<path transform="translate(96.80,142.91) scale(0.975,1) translate(-44.49,0.00) scale(0.01953,-0.01902)" d="M763 0H583V1147Q518 1085 412.5 1023T223 930V1104Q374 1175 487 1276T647 1472H763Z"/>
<path transform="translate(96.80,62.70) scale(0.975,1) translate(-44.49,0.00) scale(0.01953,-0.01902)" d="M763 0H583V1147Q518 1085 412.5 1023T223 930V1104Q374 1175 487 1276T647 1472H763Z"/>
<path transform="translate(238.75,570.75) scale(0.975,1) translate(-22.25,0.00) scale(0.01953,-0.01902)" d="M763 0H583V1147Q518 1085 412.5 1023T223 930V1104Q374 1175 487 1276T647 1472H763Z"/>
<path transform="translate(306.70,570.75) scale(0.975,1) translate(-22.25,0.00) scale(0.01953,-0.01902)" d="M763 0H583V1147Q518 1085 412.5 1023T223 930V1104Q374 1175 487 1276T647 1472H763Z"/>
<path transform="translate(47.10,290.88) rotate(-90) scale(0.946,1) translate(-88.80,0.00) scale(0.01982,-0.01931)" d="M763 0H583V1147Q518 1085 412.5 1023T223 930V1104Q374 1175 487 1276T647 1472H763Z"/>
<path transform="translate(522.30,494.33) scale(0.946,1) translate(-137.95,0.00) scale(0.01982,-0.01931)" d="M763 0H583V1147Q518 1085 412.5 1023T223 930V1104Q374 1175 487 1276T647 1472H763Z"/>
<path transform="translate(96.80,940.83) scale(0.975,1) translate(-44.49,0.00) scale(0.01953,-0.01902)" d="M763 0H583V1147Q518 1085 412.5 1023T223 930V1104Q374 1175 487 1276T647 1472H763Z"/>
<path transform="translate(96.80,860.62) scale(0.975,1) translate(-44.49,0.00) scale(0.01953,-0.01902)" d="M763 0H583V1147Q518 1085 412.5 1023T223 930V1104Q374 1175 487 1276T647 1472H763Z"/>
<path transform="translate(96.80,780.41) scale(0.975,1) translate(-44.49,0.00) scale(0.01953,-0.01902)" d="M763 0H583V1147Q518 1085 412.5 1023T223 930V1104Q374 1175 487 1276T647 1472H763Z"/>
<path transform="translate(96.80,700.20) scale(0.975,1) translate(-44.49,0.00) scale(0.01953,-0.01902)" d="M763 0H583V1147Q518 1085 412.5 1023T223 930V1104Q374 1175 487 1276T647 1472H763Z"/>
<path transform="translate(238.75,1208.25) scale(0.975,1) translate(-22.25,0.00) scale(0.01953,-0.01902)" d="M763 0H583V1147Q518 1085 412.5 1023T223 930V1104Q374 1175 487 1276T647 1472H763Z"/>
<path transform="translate(306.70,1208.25) scale(0.975,1) translate(-22.25,0.00) scale(0.01953,-0.01902)" d="M763 0H583V1147Q518 1085 412.5 1023T223 930V1104Q374 1175 487 1276T647 1472H763Z"/>
<path transform="translate(47.10,928.38) rotate(-90) scale(0.946,1) translate(-88.80,0.00) scale(0.01982,-0.01931)" d="M763 0H583V1147Q518 1085 412.5 1023T223 930V1104Q374 1175 487 1276T647 1472H763Z"/>
<path transform="translate(522.30,1131.83) scale(0.946,1) translate(-137.95,0.00) scale(0.01982,-0.01931)" d="M763 0H583V1147Q518 1085 412.5 1023T223 930V1104Q374 1175 487 1276T647 1472H763Z"/>
</g>
</svg>
</body></html>
